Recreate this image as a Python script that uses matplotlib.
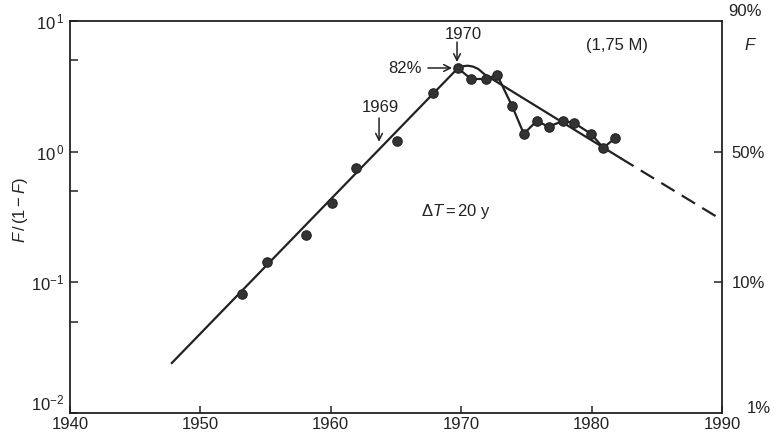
import matplotlib
matplotlib.use("Agg")
import matplotlib.pyplot as plt
from matplotlib.ticker import FixedLocator, NullFormatter

# ---- data ----
years = [1953.2, 1955.1, 1958.1, 1960.1, 1961.9, 1965.1, 1967.8, 1969.75,
         1970.75, 1971.9, 1972.75, 1973.9, 1974.8, 1975.8, 1976.7, 1977.8,
         1978.65, 1979.95, 1980.9, 1981.8]
values = [0.0815, 0.143, 0.231, 0.405, 0.75, 1.21, 2.81, 4.36,
          3.60, 3.60, 3.87, 2.24, 1.37, 1.72, 1.55, 1.72,
          1.66, 1.37, 1.07, 1.27]
# points after the 1970 peak are joined by a polyline
joined_start_year = 1969.7

fit_rise_years = [1947.75, 1969.75]
fit_rise_values = [0.0238, 4.36]
fit_fall_years = [1969.75, 1970.1, 1970.5, 1970.9, 1971.3, 1971.8, 1982.2]
fit_fall_values = [4.36, 4.50, 4.55, 4.48, 4.30, 3.90, 0.895]
extrap_years = [1982.2, 1990.0]
extrap_values = [0.895, 0.30]

x_ticks = [1940, 1950, 1960, 1970, 1980, 1990]
y_ticks = [0.01, 0.1, 1, 10]
y_tick_labels = [r'$10^{-2}$', r'$10^{-1}$', r'$10^{\,0}$', r'$10^{\,1}$']
y_minor = [0.05, 0.5, 5]
right_ticks = [1, 0.1]
right_labels = ['50%', '10%']

plt.rcParams['font.family'] = ['Liberation Sans', 'DejaVu Sans']
plt.rcParams['mathtext.fontset'] = 'custom'
plt.rcParams['mathtext.rm'] = 'Liberation Sans'
plt.rcParams['mathtext.it'] = 'Liberation Sans:italic'
plt.rcParams['mathtext.bf'] = 'Liberation Sans:bold'

ink = '#222222'
fig = plt.figure(figsize=(7.77, 4.36), dpi=100)
ax = fig.add_axes([70/777, 1-413/436, (722-70)/777, (413-21)/436])
ax.set_yscale('log')
ax.set_xlim(1940, 1990)
ax.set_ylim(0.01, 10)

lw = 1.6
ax.plot(fit_rise_years, fit_rise_values, color=ink, lw=lw, solid_capstyle='butt')
ax.plot(fit_fall_years, fit_fall_values, color=ink, lw=lw)
ax.plot(extrap_years, extrap_values, color=ink, lw=lw, linestyle=(0, (7, 3.8)))

jy = [y for y in years if y >= joined_start_year]
jv = [v for y, v in zip(years, values) if y >= joined_start_year]
ax.plot(jy, jv, color=ink, lw=lw)
ax.plot(years, values, 'o', color='#333333', markersize=6.8, markeredgecolor='#222222',
        markeredgewidth=0.8, zorder=5)

# ticks
ax.xaxis.set_major_locator(FixedLocator(x_ticks))
ax.set_xticklabels([str(t) for t in x_ticks])
ax.yaxis.set_major_locator(FixedLocator(y_ticks))
ax.set_yticklabels(y_tick_labels)
ax.yaxis.set_minor_locator(FixedLocator(y_minor))
ax.yaxis.set_minor_formatter(NullFormatter())
ax.tick_params(axis='both', which='both', direction='in', color=ink,
               labelsize=12, labelcolor=ink, width=1.1)
ax.tick_params(axis='x', which='major', length=5, pad=3)
ax.tick_params(axis='y', which='major', length=6, pad=4)
ax.tick_params(axis='y', which='minor', length=6)
ax.get_yticklabels()[0].set_verticalalignment('bottom')
for s in ax.spines.values():
    s.set_color(ink)
    s.set_linewidth(1.3)

# right-hand F axis
ax2 = ax.twinx()
ax2.set_yscale('log')
ax2.set_ylim(0.01, 10)
ax2.yaxis.set_major_locator(FixedLocator(right_ticks))
ax2.set_yticklabels(right_labels)
ax2.yaxis.set_minor_locator(FixedLocator([]))
ax2.tick_params(axis='y', direction='in', length=6, width=1.1, color=ink,
                labelsize=12, labelcolor=ink, pad=7)
for s in ax2.spines.values():
    s.set_visible(False)

fig.text(728/777, 1-12/436, '90%', fontsize=12, color=ink, ha='left', va='center')
fig.text(744/777, 1-45/436, 'F', fontsize=12, color=ink, ha='left', va='center',
         style='italic')
fig.text(747/777, 1-408/436, '1%', fontsize=12, color=ink, ha='left', va='center')
fig.text(20/777, 1-210/436, r'$F\,/\,(1-F)$', fontsize=12, color=ink,
         rotation=90, ha='center', va='center')

# annotations
arrow = dict(arrowstyle='->', color=ink, lw=1.1, shrinkA=0, shrinkB=0,
             mutation_scale=12)
ax.annotate('', xy=(1969.68, 4.85), xytext=(1969.68, 6.9), arrowprops=arrow)
ax.text(1970.14, 7.9, '1970', fontsize=12, color=ink, ha='center', va='center')
ax.annotate('', xy=(1969.3, 4.37), xytext=(1967.45, 4.37), arrowprops=arrow)
ax.text(1965.69, 4.3, '82%', fontsize=12, color=ink, ha='center', va='center')
ax.annotate('', xy=(1963.7, 1.19), xytext=(1963.7, 1.81), arrowprops=arrow)
ax.text(1963.77, 2.16, '1969', fontsize=12, color=ink, ha='center', va='center')
ax.text(1981.95, 6.55, '(1,75 M)', fontsize=12, color=ink, ha='center', va='center')
ax.text(1969.6, 0.351, r'$\Delta T = 20\ \mathrm{y}$', fontsize=12, color=ink,
        ha='center', va='center')

fig.savefig('out.png', dpi=100, facecolor='white')
